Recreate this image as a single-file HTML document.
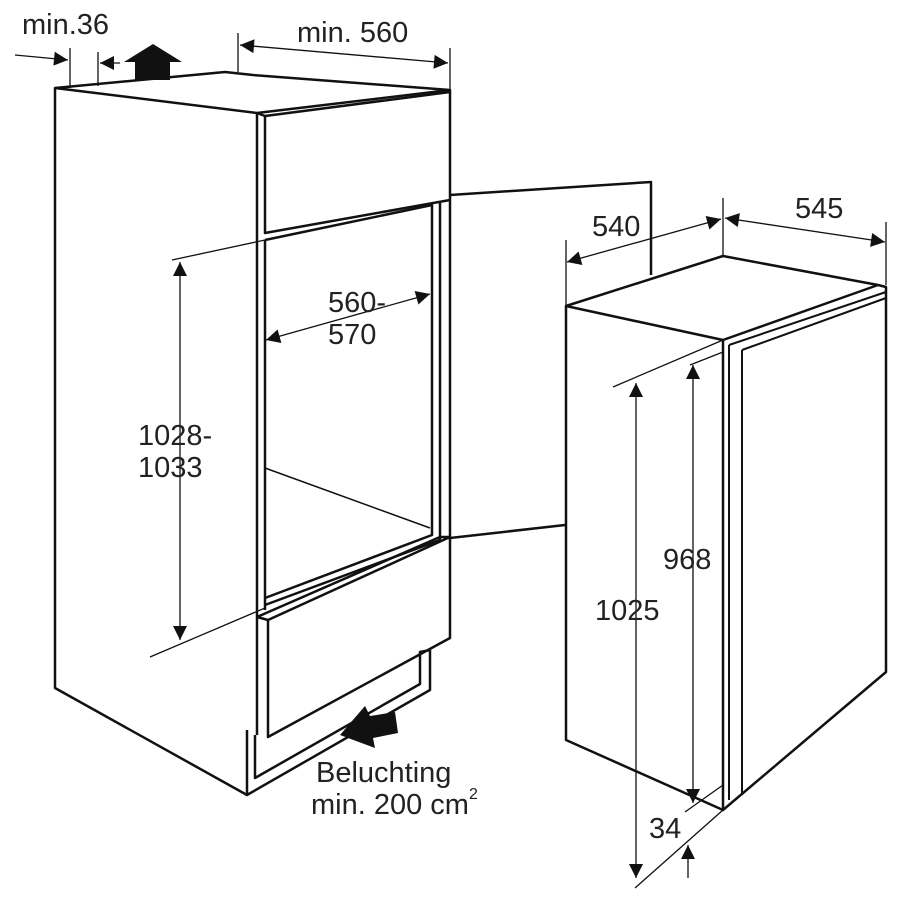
<!DOCTYPE html>
<html><head><meta charset="utf-8"><style>
html,body{margin:0;padding:0;background:#fff;}
svg{display:block;}
text{font-family:"Liberation Sans",Arial,sans-serif;font-size:29px;fill:#222;}
</style></head><body>
<svg width="900" height="900" viewBox="0 0 900 900" xmlns="http://www.w3.org/2000/svg">
<defs>
<marker id="a" viewBox="0 0 10 10" refX="10" refY="5" markerWidth="18" markerHeight="14" markerUnits="userSpaceOnUse" orient="auto-start-reverse"><path d="M0,0 L10,5 L0,10 z" fill="#111"/></marker>
</defs>
<g fill="none" stroke="#111" stroke-width="2.5" stroke-linejoin="round">
<path d="M55,88 L225,72 L253,75 L450,90 L257,113 Z" fill="#fff"/>
<path d="M55,88 L55,688 L247,795"/>
<path d="M257,113 L257,735"/>
<path d="M265,116 L265,233 L450,200"/>
<path d="M257,113 L265,116 L450,92"/>
<path d="M450,90 L450,540"/>
<path d="M265,240 L432,205 L432,535 L265,598"/>
<path d="M265,240 L265,610 M440,203 L440,540"/>
<path d="M265,605 L440,540"/>
<path d="M265,468 L430,528" stroke-width="1.5"/>
<path d="M450,195 L651,182 L651,275"/>
<path d="M450,538 L565,525"/>
<path d="M257,617 L268,620 L450,537 L440,537 L257,617"/>
<path d="M268,620 L268,737 L450,638 L450,537"/>
<path d="M247,730 L247,795 L430,690 L430,650 L420,652 L420,684 L255,778 L255,735"/>
<path d="M566,306 L723,256 L878,285 L886,287 L886,672 L723,810 L566,740 Z"/>
<path d="M566,306 L723,340 L878,285"/>
<path d="M723,340 L723,810"/>
<path d="M729,345 L886,292 M729,345 L729,800 M742,350 L742,795 M742,350 L886,298" stroke-width="2"/>
</g>
<g fill="none" stroke="#111" stroke-width="1.3">
<line x1="15" y1="55" x2="68" y2="60" marker-end="url(#a)"/>
<line x1="70" y1="48" x2="70" y2="88"/>
<line x1="98" y1="52" x2="98" y2="86"/>
<line x1="120" y1="63" x2="100" y2="63" marker-end="url(#a)"/>
<line x1="238" y1="33" x2="238" y2="72"/>
<line x1="450" y1="48" x2="450" y2="90"/>
<line x1="240" y1="45" x2="448" y2="63" marker-start="url(#a)" marker-end="url(#a)"/>
<line x1="266" y1="340" x2="430" y2="294" marker-start="url(#a)" marker-end="url(#a)"/>
<line x1="172" y1="260" x2="265" y2="240"/>
<line x1="150" y1="657" x2="265" y2="608"/>
<line x1="180" y1="262" x2="180" y2="640" marker-start="url(#a)" marker-end="url(#a)"/>
<line x1="566" y1="240" x2="566" y2="306"/>
<line x1="723" y1="198" x2="723" y2="256"/>
<line x1="886" y1="222" x2="886" y2="285"/>
<line x1="567" y1="262" x2="721" y2="219" marker-start="url(#a)" marker-end="url(#a)"/>
<line x1="725" y1="218" x2="885" y2="242" marker-start="url(#a)" marker-end="url(#a)"/>
<line x1="613" y1="387" x2="723" y2="340"/>
<line x1="690" y1="365" x2="723" y2="352"/>
<line x1="636" y1="383" x2="636" y2="878" marker-start="url(#a)" marker-end="url(#a)"/>
<line x1="693" y1="365" x2="693" y2="803" marker-start="url(#a)" marker-end="url(#a)"/>
<line x1="685" y1="812" x2="723" y2="785"/>
<line x1="635" y1="888" x2="723" y2="810"/>
<line x1="688" y1="878" x2="688" y2="845" marker-end="url(#a)"/>
</g>
<path d="M135,80 L135,62 L124,62 L153,44 L182,62 L170,62 L170,80 Z" fill="#111"/>
<path d="M395,712 L370,716 L365,706 L340,735 L375,748 L373,738 L398,733 Z" fill="#111"/>
<text x="22" y="34">min.36</text>
<text x="297" y="42">min. 560</text>
<text x="328" y="312">560-</text>
<text x="328" y="344">570</text>
<text x="138" y="445">1028-</text>
<text x="138" y="477">1033</text>
<text x="592" y="236">540</text>
<text x="795" y="218">545</text>
<text x="663" y="569">968</text>
<text x="595" y="620">1025</text>
<text x="649" y="838">34</text>
<text x="316" y="782">Beluchting</text>
<text x="311" y="814">min. 200 cm<tspan font-size="16" dy="-15">2</tspan></text>
</svg>
</body></html>
